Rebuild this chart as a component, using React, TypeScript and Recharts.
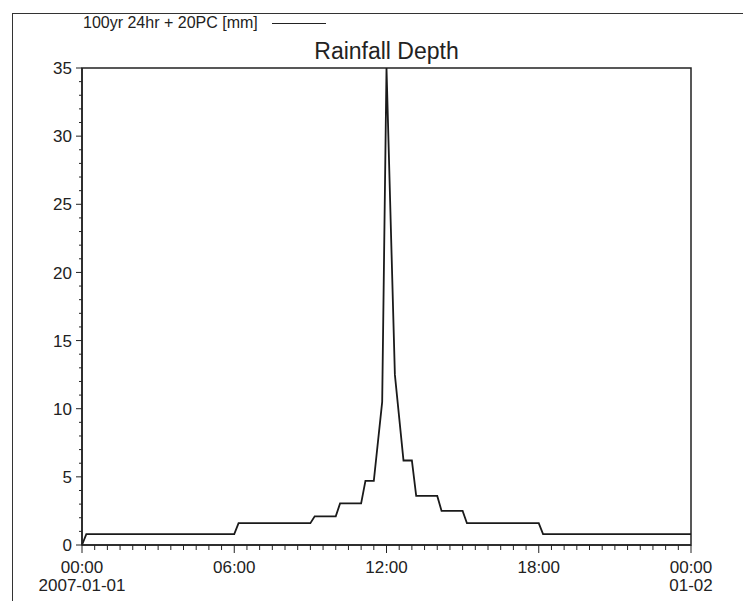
import { LineChart, Line, XAxis, YAxis, ReferenceArea } from 'recharts';

// storm profile breakpoints (time in hours from 2007-01-01 00:00)
const hours = [0, 0.17, 6, 6.17, 9, 9.17, 10, 10.17, 11, 11.17, 11.5, 11.83, 12, 12.33, 12.67, 13, 13.17, 14, 14.17, 15, 15.17, 18, 18.17, 24];
const depth = [0, 0.8, 0.8, 1.6, 1.6, 2.1, 2.1, 3.05, 3.05, 4.7, 4.7, 10.5, 35, 12.5, 6.2, 6.2, 3.6, 3.6, 2.5, 2.5, 1.6, 1.6, 0.8, 0.8];

const majorHours = [0, 6, 12, 18, 24];
const timeLabels = ['00:00', '06:00', '12:00', '18:00', '00:00'];
const dateLabels = ['2007-01-01', '', '', '', '01-02'];
const yLabels = [0, 5, 10, 15, 20, 25, 30, 35];

const seriesName = '100yr 24hr + 20PC [mm]';
const title = 'Rainfall Depth';

const FONT = '"Liberation Sans", Arial, sans-serif';
const INK = '#222';

// minor ticks every half hour / every 1 mm
const xTicks = Array.from({ length: 49 }, (_, i) => i / 2);
const yTicks = Array.from({ length: 36 }, (_, i) => i);

const data = hours.map((h, i) => ({ h, depth: depth[i] }));

function XTick(props: any) {
  const { x, y, payload } = props;
  const idx = majorHours.indexOf(payload.value);
  const major = idx >= 0;
  return (
    <g>
      <line x1={x} x2={x} y1={y} y2={y + (major ? 8 : 5)} stroke={INK} strokeWidth={1} />
      {major && (
        <text x={x} y={y + 28} textAnchor="middle" fontSize={17} fill={INK} style={{ fontFamily: FONT }}>
          {timeLabels[idx]}
        </text>
      )}
      {major && dateLabels[idx] && (
        <text x={x} y={y + 46} textAnchor="middle" fontSize={17} fill={INK} style={{ fontFamily: FONT }}>
          {dateLabels[idx]}
        </text>
      )}
    </g>
  );
}

function YTick(props: any) {
  const { x, y, payload } = props;
  const major = yLabels.includes(payload.value);
  return (
    <g>
      <line x1={x} x2={x - (major ? 6 : 3)} y1={y} y2={y} stroke={INK} strokeWidth={1} />
      {major && (
        <text x={x - 10} y={y} dy="0.36em" textAnchor="end" fontSize={17} fill={INK} style={{ fontFamily: FONT }}>
          {payload.value}
        </text>
      )}
    </g>
  );
}

export default function App() {
  return (
    <div style={{ position: 'absolute', left: 0, top: 0, width: 743, height: 601, background: '#fff', overflow: 'hidden', fontFamily: FONT }}>
      <div style={{ position: 'absolute', left: 12, top: 13, width: 740, height: 600, borderLeft: '1.5px solid #333', borderTop: '1.5px solid #333' }} />
      <div style={{ position: 'absolute', left: 83, top: 13, height: 20, display: 'flex', alignItems: 'center', fontSize: 16, color: INK }}>
        <span>{seriesName}</span>
        <span style={{ display: 'inline-block', width: 54, height: 0, borderTop: '1.5px solid #222', marginLeft: 14 }} />
      </div>
      <div style={{ position: 'absolute', left: 82, width: 609, top: 37, textAlign: 'center', fontSize: 23, color: INK, lineHeight: '28px' }}>
        {title}
      </div>
      <LineChart width={743} height={601} data={data} margin={{ top: 68, right: 52, bottom: 0, left: 0 }}>
        <XAxis
          dataKey="h"
          type="number"
          domain={[0, 24]}
          ticks={xTicks}
          interval={0}
          height={56}
          tickSize={0}
          tickMargin={0}
          tick={<XTick />}
          axisLine={{ stroke: INK, strokeWidth: 1.5 }}
          tickLine={false}
        />
        <YAxis
          type="number"
          domain={[0, 35]}
          ticks={yTicks}
          interval={0}
          width={82}
          tickSize={0}
          tickMargin={0}
          tick={<YTick />}
          axisLine={{ stroke: INK, strokeWidth: 1.5 }}
          tickLine={false}
        />
        <ReferenceArea x1={0} x2={24} y1={0} y2={35} fill="none" fillOpacity={0} stroke={INK} strokeWidth={1.5} ifOverflow="visible" />
        <Line
          type="linear"
          dataKey="depth"
          name={seriesName}
          stroke="#1a1a1a"
          strokeWidth={1.8}
          dot={false}
          isAnimationActive={false}
        />
      </LineChart>
    </div>
  );
}
